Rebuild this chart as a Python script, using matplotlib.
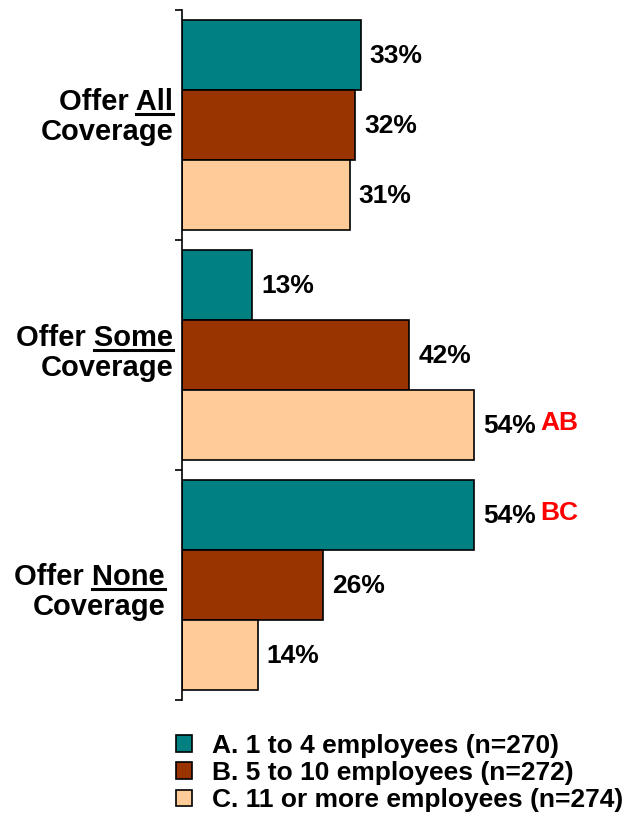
import matplotlib.pyplot as plt
import numpy as np
from matplotlib.lines import Line2D

plt.rcParams['font.family'] = ['Liberation Sans', 'DejaVu Sans']
plt.rcParams['font.weight'] = 'bold'

# data
groups = ["All", "Some", "None"]
series = ["A. 1 to 4 employees (n=270)",
          "B. 5 to 10 employees (n=272)",
          "C. 11 or more employees (n=274)"]
values = [[33, 13, 54],   # A
          [32, 42, 26],   # B
          [31, 54, 14]]   # C
sig_letters = [["", "", "BC"],
               ["", "", ""],
               ["", "AB", ""]]
colors = ["#008080", "#993300", "#FFCC99"]

W, H = 627, 822
fig = plt.figure(figsize=(W / 100, H / 100), dpi=100)
ax = fig.add_axes([182 / W, 1 - 700 / H, 77 * 5.41 / W, 690 / H])

bar_h = 0.304
y = np.arange(len(groups))
for s in range(len(series)):
    ys = y - bar_h + s * bar_h
    ax.barh(ys, values[s], height=bar_h, color=colors[s],
            edgecolor="black", linewidth=1.2, label=series[s])
    for g in range(len(groups)):
        ax.annotate(f"{values[s][g]}%", xy=(values[s][g], ys[g]),
                    xytext=(9, -1), textcoords="offset pixels",
                    ha="left", va="center", fontsize=19, fontweight="bold")
        if sig_letters[s][g]:
            ax.annotate(sig_letters[s][g], xy=(values[s][g], ys[g]),
                        xytext=(66, 2), textcoords="offset pixels",
                        ha="left", va="center", fontsize=19,
                        fontweight="bold", color="red")

ax.set_xlim(0, 77)
ax.set_ylim(len(groups) - 0.5, -0.5)
ax.set_yticks(np.arange(-0.5, len(groups)))
ax.set_yticklabels([])
ax.tick_params(axis="y", direction="out", length=5, width=1.2)
ax.set_xticks([])
for sp in ["top", "right", "bottom"]:
    ax.spines[sp].set_visible(False)
ax.spines["left"].set_linewidth(1.2)

# group labels with underlined word
label_dy = [-15, -9, 0]
label_dx = [-9, -9, -17]
fig.canvas.draw()
renderer = fig.canvas.get_renderer()
for g, word in enumerate(groups):
    ax.annotate(f"Offer {word}", xy=(0, g), xycoords=("axes fraction", "data"),
                xytext=(label_dx[g], -label_dy[g]), textcoords="offset pixels",
                ha="right", va="baseline", fontsize=21, fontweight="bold")
    ax.annotate("Coverage", xy=(0, g), xycoords=("axes fraction", "data"),
                xytext=(label_dx[g], -label_dy[g] - 30), textcoords="offset pixels",
                ha="right", va="baseline", fontsize=21, fontweight="bold")
    m = ax.annotate(word, xy=(0, g), xycoords=("axes fraction", "data"),
                    xytext=(label_dx[g], -label_dy[g]), textcoords="offset pixels",
                    ha="right", va="baseline", fontsize=21, fontweight="bold",
                    alpha=0)
    bb = m.get_window_extent(renderer)
    _, base = ax.transData.transform((0, g))
    base = base - label_dy[g] - 4
    p = fig.transFigure.inverted().transform([[bb.x0, base], [bb.x1, base]])
    fig.add_artist(Line2D(p[:, 0], p[:, 1], color="black", linewidth=2.2,
                          transform=fig.transFigure))

fig.legend(loc="upper left", bbox_to_anchor=(176 / W, 1 - 734 / H),
           frameon=False, labelspacing=0.12,
           handlelength=0.6, handleheight=0.6, handletextpad=0.75,
           borderpad=0, borderaxespad=0, prop={"weight": "bold", "size": 19})

fig.savefig("out.png", dpi=100)
